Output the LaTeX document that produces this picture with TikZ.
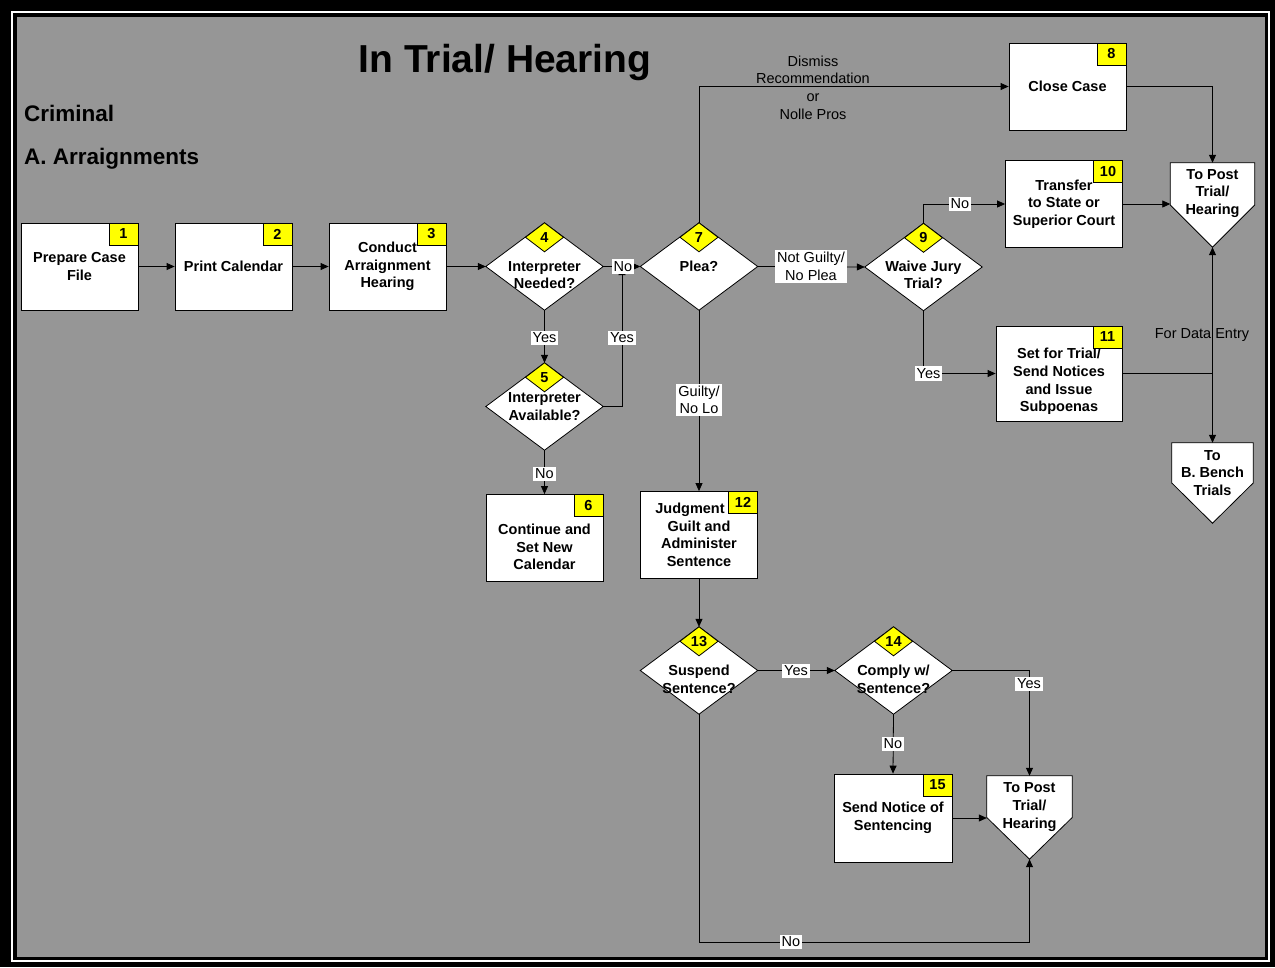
\documentclass[tikz,border=0pt]{standalone}
\usepackage{fontspec}
\setmainfont{Liberation Sans}
\usetikzlibrary{arrows.meta,calc}
\definecolor{bggray}{RGB}{150,150,150}
\definecolor{badgeyellow}{RGB}{255,255,0}
\newcommand\bxfont{\bfseries\fontsize{14.5}{17.6}\selectfont}
\newcommand\lbfont{\fontsize{14.5}{17.6}\selectfont}
\begin{document}
\begin{tikzpicture}[x=1pt,y=-1pt,
  line/.style={draw=black,line width=0.8pt},
  conn/.style={draw=black,line width=0.8pt,-{Triangle[length=8pt,width=7pt]}},
  box/.style={draw=black,fill=white,line width=0.8pt,minimum width=117pt,minimum height=87pt,inner sep=0pt,align=center,font=\bxfont},
  frame/.style={draw=none,minimum width=117pt,minimum height=87pt,inner sep=0pt},
  shapefill/.style={draw=black,fill=white,line width=0.8pt},
  badge/.style={draw=black,fill=badgeyellow,line width=0.8pt,minimum width=29pt,minimum height=22pt,inner sep=0pt,anchor=north east,font=\bxfont},
  dbadge/.style={draw=black,fill=badgeyellow,line width=0.8pt},
  num/.style={font=\bxfont,inner sep=0pt},
  txt/.style={align=center,font=\bxfont,inner sep=0pt},
  lab/.style={fill=white,inner sep=2pt,align=center,font=\lbfont},
  plain/.style={inner sep=0pt,align=center,font=\lbfont}]
\useasboundingbox (0,0) rectangle (1275,967);
% frame
\fill[black] (0,0) rectangle (1275,967);
\fill[white] (11,11) rectangle (1270,962);
\fill[black] (13,13) rectangle (1268,960);
\fill[bggray] (17,17) rectangle (1265,957);

% headings
\node[font=\bfseries\fontsize{39}{39}\selectfont,inner sep=0pt] (title) at (505,62) {In Trial/ Hearing};
\node[font=\bfseries\fontsize{22.5}{22.5}\selectfont,inner sep=0pt,anchor=base west] (crim) at (24,121) {Criminal};
\node[font=\bfseries\fontsize{22.5}{22.5}\selectfont,inner sep=0pt,anchor=base west] (arr) at (24,164) {A. Arraignments};

% boxes
\node[box] (b1) at (79.5,266.5) {Prepare Case\\File};
\node[box] (b2) at (233.5,266.5) {Print Calendar};
\node[box] (b3) at (387.5,266.5) {Conduct\\Arraignment\\Hearing};
\node[box] (b6) at (544.5,538) {};
\node[txt] (t6) at (544.5,547) {Continue and\\Set New\\Calendar};
\node[box] (b8) at (1067.5,86.5) {Close Case};
\node[box] (b10) at (1064,204) {Transfer\\to State or\\Superior Court};
\node[box,minimum width=126pt,minimum height=95pt] (b11) at (1059,373.5) {};
\node[txt] (t11) at (1059,381.5) {Set for Trial/\\Send Notices\\and Issue\\Subpoenas};
\node[box] (b12) at (699,535) {Judgment\hspace*{18pt}\\Guilt and\\Administer\\Sentence};
\node[box,minimum width=118pt,minimum height=88pt] (b15) at (893,818) {Send Notice of\\Sentencing};

% box badges
\node[badge] (n1) at (b1.north east) {1};
\node[badge] (n2) at (b2.north east) {2};
\node[badge] (n3) at (b3.north east) {3};
\node[badge] (n6) at (b6.north east) {6};
\node[badge] (n8) at (b8.north east) {8};
\node[badge] (n10) at (b10.north east) {10};
\node[badge] (n11) at (b11.north east) {11};
\node[badge] (n12) at (b12.north east) {12};
\node[badge] (n15) at (b15.north east) {15};

% diamonds
\node[frame] (d4) at (544.5,266.5) {};
\node[frame] (d5) at (544.5,406.5) {};
\node[frame] (d7) at (699,266.5) {};
\node[frame] (d9) at (923.5,267) {};
\node[frame] (d13) at (699,670.5) {};
\node[frame] (d14) at (893.5,670.5) {};
\foreach \d in {d4,d5,d7,d9,d13,d14}{
  \draw[shapefill] (\d.north) -- (\d.east) -- (\d.south) -- (\d.west) -- cycle;
  \draw[dbadge] (\d.north) -- ++(19,14.5) -- ++(-19,14.5) -- ++(-19,-14.5) -- cycle;
}
\node[num] (n4) at ($(d4.north)+(0,14.5)$) {4};
\node[num] (n5) at ($(d5.north)+(0,14.5)$) {5};
\node[num] (n7) at ($(d7.north)+(0,14.5)$) {7};
\node[num] (n9) at ($(d9.north)+(0,14.5)$) {9};
\node[num] (n13) at ($(d13.north)+(0,14.5)$) {13};
\node[num] (n14) at ($(d14.north)+(0,14.5)$) {14};
\node[txt] (t4) at ($(d4)+(0,8.5)$) {Interpreter\\Needed?};
\node[txt] (t5) at ($(d5)+(0,0)$) {Interpreter\\Available?};
\node[txt] (t7) at (d7) {Plea?};
\node[txt] (t9) at ($(d9)+(0,8)$) {Waive Jury\\Trial?};
\node[txt] (t13) at ($(d13)+(0,9)$) {Suspend\\Sentence?};
\node[txt] (t14) at ($(d14)+(0,9)$) {Comply w/\\Sentence?};

% off-page pentagons
\node[frame,minimum width=84pt,minimum height=84pt] (p1) at (1212.5,205) {};
\node[frame,minimum width=81pt,minimum height=80pt] (p2) at (1212.5,483) {};
\node[frame,minimum width=85pt,minimum height=83pt] (p3) at (1029.5,817.5) {};
\foreach \p in {p1,p2,p3}{
  \draw[shapefill] (\p.north west) -- (\p.north east) -- (\p.east) -- (\p.south) -- (\p.west) -- cycle;
}
\node[txt] (tp1) at ($(p1)+(0,-11.5)$) {To Post\\Trial/\\Hearing};
\node[txt] (tp2) at ($(p2)+(0,-10)$) {To\\B. Bench\\Trials};
\node[txt] (tp3) at ($(p3)+(0,-10.5)$) {To Post\\Trial/\\Hearing};

% connectors
\draw[conn] (b1.east) -- (b2.west);
\draw[conn] (b2.east) -- (b3.west);
\draw[conn] (b3.east) -- (d4.west);
\draw[conn] (d4.east) -- (d7.west);
\draw[conn] (d4.south) -- (d5.north);
\coordinate (j5) at (622,267);
\draw[conn] (d5.east) -| (j5);
\draw[conn] (d5.south) -- (b6.north);
\draw[conn] (d7.north) |- (b8.west);
\draw[conn] (b8.east) -| (p1.north);
\draw[conn] (d7.east) -- (d9.west);
\draw[conn] (d9.north) |- (b10.west);
\draw[conn] (b10.east) -- (b10.east -| p1.west);
\draw[conn] (d9.south) |- (b11.west);
\coordinate (j11) at (1212.5,373.5);
\draw[line] (b11.east) -- (j11);
\draw[conn] (j11) -- (p1.south);
\draw[conn] (j11) -- (p2.north);
\draw[conn] (d7.south) -- (b12.north);
\draw[conn] (b12.south) -- (d13.north);
\draw[conn] (d13.east) -- (d14.west);
\draw[conn] (d14.east) -| (p3.north);
\draw[conn] (d14.south) -- (b15.north);
\draw[conn] (b15.east) -- (b15.east -| p3.west);
\coordinate (j13) at (699,942);
\draw[conn] (d13.south) -- (j13) -| (p3.south);

% connector labels
\node[lab] (l1) at (623,266.5) {No};
\node[lab] (l2) at (544.5,338) {Yes};
\node[lab] (l3) at (622,338) {Yes};
\node[lab] (l4) at (544.5,474) {No};
\node[plain] (l5) at (813,87.5) {Dismiss\\Recommendation\\or\\Nolle Pros};
\node[lab] (l6) at (811,266.5) {Not Guilty/\\No Plea};
\node[lab] (l7) at (960,204) {No};
\node[lab] (l8) at (928.5,373.5) {Yes};
\node[plain] (l9) at (1202,335) {For Data Entry};
\node[lab] (l10) at (699,400) {Guilty/\\No Lo};
\node[lab] (l11) at (796,671) {Yes};
\node[lab] (l12) at (1029,684) {Yes};
\node[lab] (l13) at (893,744) {No};
\node[lab] (l14) at (791,942) {No};
\end{tikzpicture}
\end{document}
